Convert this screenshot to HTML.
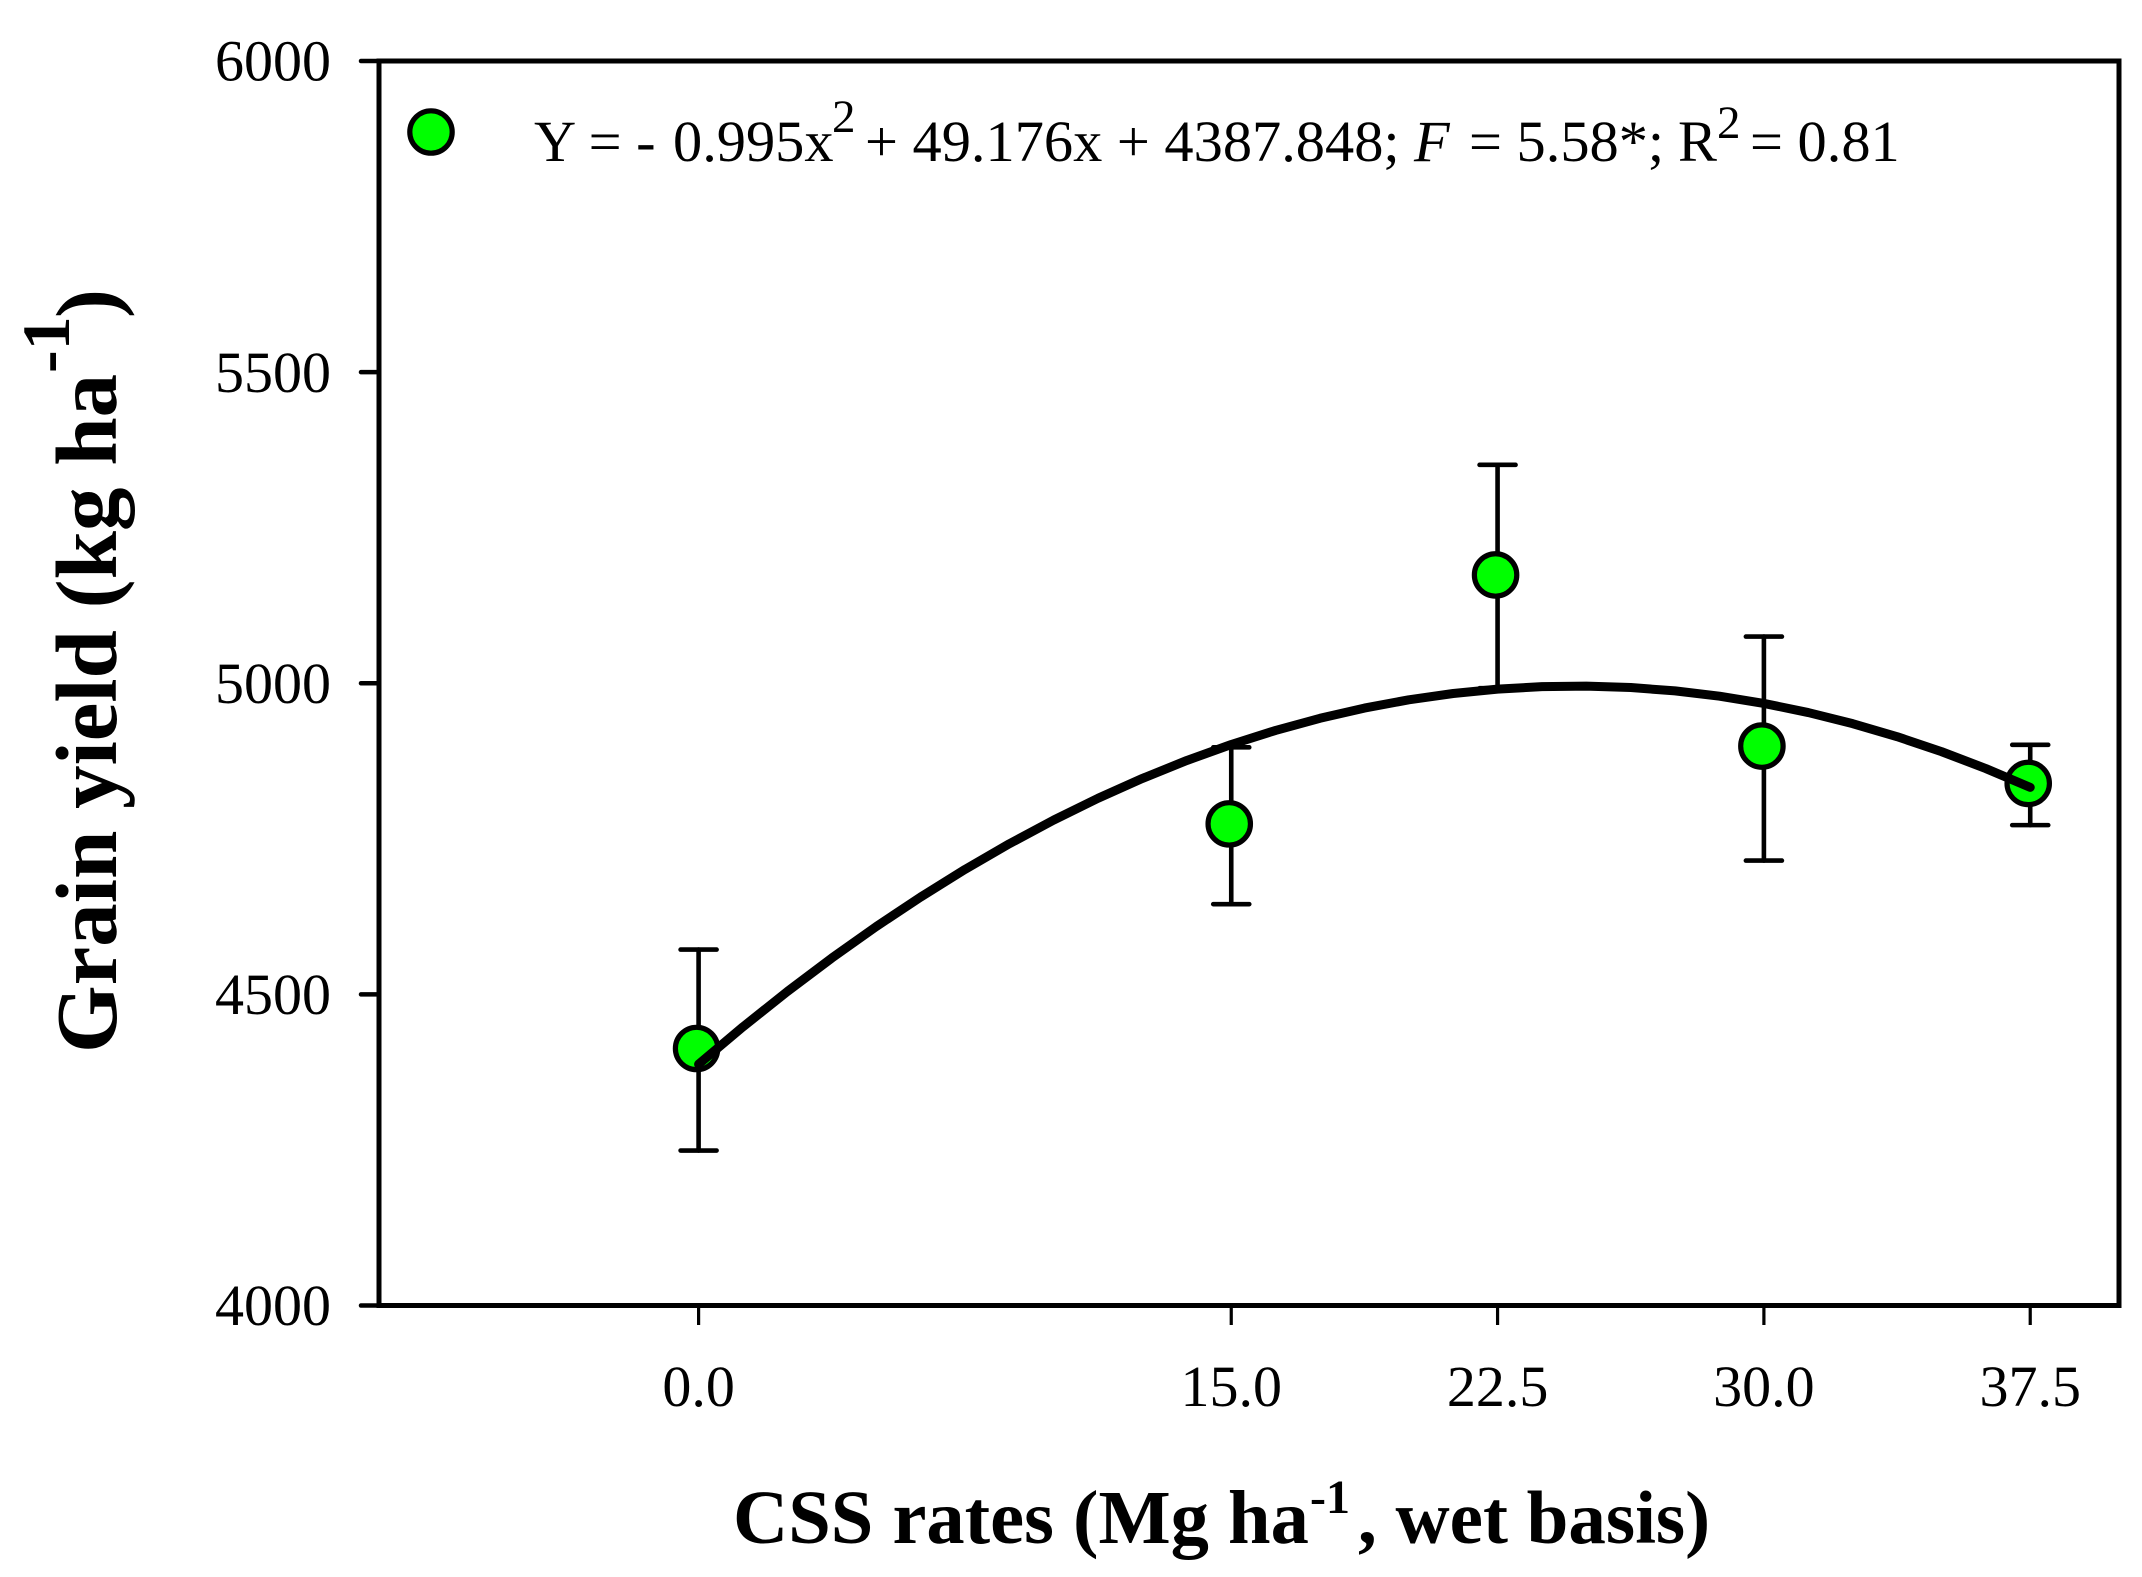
<!DOCTYPE html>
<html lang="en">
<head>
<meta charset="utf-8">
<title>Grain yield vs CSS rates</title>
<style>
  html, body { margin: 0; padding: 0; background: #fff; }
  svg { display: block; }
  text { font-family: "Liberation Serif", serif; fill: #000; }
</style>
</head>
<body>
<svg id="chart" xmlns="http://www.w3.org/2000/svg" width="2142" height="1577" viewBox="0 0 2142 1577">
  <rect x="0" y="0" width="2142" height="1577" fill="#fff"/>
  <g id="marks"></g>
  <rect x="379" y="61" width="1740" height="1244.5" fill="none" stroke="#000" stroke-width="5"/>
  <g id="axes"></g>
  <g>
    <circle cx="431" cy="132" r="21.2" fill="#00ff00" stroke="#000" stroke-width="5.2"/>
    <text font-size="58.4">
      <tspan x="534" y="161">Y = -</tspan><tspan x="673" y="161">0.995x</tspan><tspan x="832" y="132" font-size="47">2</tspan><tspan x="865" y="161">+ 49.176x + 4387.848;</tspan><tspan x="1414" y="161" font-style="italic">F</tspan><tspan x="1469" y="161">= 5.58*;</tspan><tspan x="1678" y="161">R</tspan><tspan x="1717" y="138" font-size="47">2</tspan><tspan x="1750" y="161">= 0.81</tspan>
    </text>
  </g>
  <text font-size="76.5" font-weight="bold">
    <tspan x="733" y="1543">CSS rates (Mg ha</tspan><tspan x="1310" y="1513" font-size="48">-1</tspan><tspan x="1358" y="1543" font-size="75">, wet basis)</tspan>
  </text>
  <g transform="translate(116 1053) rotate(-90)">
    <text font-size="87" font-weight="bold">
      <tspan x="0" y="0">Grain yield (kg ha</tspan><tspan x="680" y="-47" font-size="68">-1</tspan><tspan x="735" y="0">)</tspan>
    </text>
  </g>
</svg>
<script>
// Data
const rateValues = [0, 15, 22.5, 30, 37.5];
const yieldMeans = [4413, 4774, 5174, 4899, 4839];
const errorUpper = [4572, 4897, 5351, 5075, 4901];
const errorLower = [4249, 4645, 4992, 4715, 4772];
const xTickValues = [0, 15, 22.5, 30, 37.5];
const xTickLabels = ["0.0", "15.0", "22.5", "30.0", "37.5"];
const yTickValues = [4000, 4500, 5000, 5500, 6000];
const yTickLabels = ["4000", "4500", "5000", "5500", "6000"];
const curveRates = [0, 1.25, 2.5, 3.75, 5, 6.25, 7.5, 8.75, 10, 11.25, 12.5, 13.75, 15, 16.25, 17.5, 18.75, 20, 21.25, 22.5, 23.75, 25, 26.25, 27.5, 28.75, 30, 31.25, 32.5, 33.75, 35, 36.25, 37.5];
const curveYields = [4387.8, 4447.8, 4504.6, 4558.3, 4608.9, 4656.3, 4700.7, 4742.0, 4780.1, 4815.2, 4847.1, 4875.9, 4901.6, 4924.2, 4943.7, 4960.1, 4973.4, 4983.5, 4990.6, 4994.5, 4995.3, 4993.1, 4987.7, 4979.2, 4967.6, 4952.9, 4935.1, 4914.2, 4890.1, 4862.9, 4832.7];

// Axis functions
const plotLeft = 379, plotRight = 2119, plotTop = 61, plotBottom = 1305.5;
const xMin = -9, xMax = 40, yMin = 4000, yMax = 6000;
function xScale(v) { return plotLeft + (v - xMin) / (xMax - xMin) * (plotRight - plotLeft); }
function yScale(v) { return plotBottom - (v - yMin) / (yMax - yMin) * (plotBottom - plotTop); }

const NS = "http://www.w3.org/2000/svg";
function make(tag, attrs, parent) {
  const el = document.createElementNS(NS, tag);
  for (const k in attrs) el.setAttribute(k, attrs[k]);
  parent.appendChild(el);
  return el;
}
const marks = document.getElementById("marks");
const axes = document.getElementById("axes");

// Error bars
rateValues.forEach(function (rate, i) {
  const x = xScale(rate);
  const g = make("g", { stroke: "#000", "stroke-width": 4.6, "stroke-linecap": "round" }, marks);
  
  
  make("line", { x1: x, x2: x, y1: yScale(errorUpper[i]), y2: yScale(errorLower[i]) }, g);
  make("line", { x1: x - 18, x2: x + 18, y1: yScale(errorUpper[i]), y2: yScale(errorUpper[i]) }, g);
  make("line", { x1: x - 18, x2: x + 18, y1: yScale(errorLower[i]), y2: yScale(errorLower[i]) }, g);
});

// Points
rateValues.forEach(function (rate, i) {
  const c = make("circle", { cx: xScale(rate) - 2, cy: yScale(yieldMeans[i]), r: 21.2, fill: "#00ff00", stroke: "#000", "stroke-width": 5.2 }, marks);
  
  
});

// Fitted curve
const curvePoints = curveRates.map(function (r, i) { return xScale(r) + "," + yScale(curveYields[i]); }).join(" ");
const curve = make("polyline", { points: curvePoints, fill: "none", stroke: "#000", "stroke-width": 9, "stroke-linecap": "round", "stroke-linejoin": "round" }, marks);



// Y axis ticks and labels
yTickValues.forEach(function (v, i) {
  const y = yScale(v);
  const t = make("line", { x1: 361, x2: plotLeft, y1: y, y2: y, stroke: "#000", "stroke-width": 4.5, "stroke-linecap": "round" }, axes);
  
  
  const l = make("text", { x: 331, y: y + 19.7, "text-anchor": "end", "font-size": 58 }, axes);
  
  
  l.textContent = yTickLabels[i];
});

// X axis ticks and labels
xTickValues.forEach(function (v, i) {
  const x = xScale(v);
  const t = make("line", { x1: x, x2: x, y1: plotBottom, y2: 1325, stroke: "#000", "stroke-width": 3.2 }, axes);
  
  
  const l = make("text", { x: x, y: 1406, "text-anchor": "middle", "font-size": 58 }, axes);
  
  
  l.textContent = xTickLabels[i];
});
</script>
</body>
</html>
